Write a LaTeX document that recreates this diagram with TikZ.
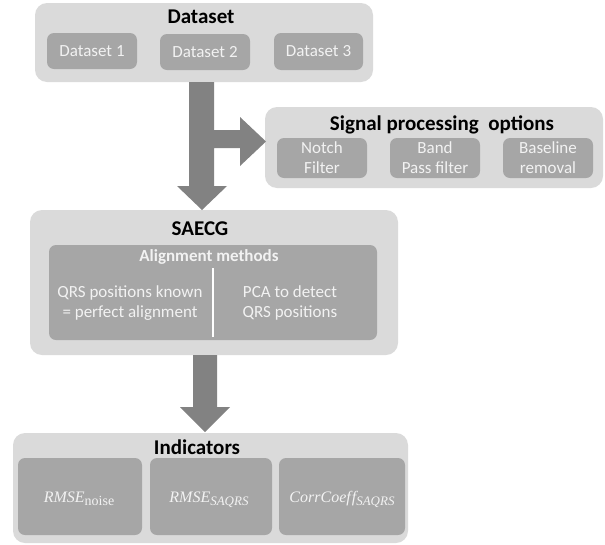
\documentclass[tikz,border=0pt]{standalone}
\usepackage[no-math]{fontspec}
\setmainfont{Carlito}
\newfontfamily\indserif{Liberation Serif}
\definecolor{outerfill}{HTML}{DADADA}
\definecolor{innerfill}{HTML}{A6A6A6}
\definecolor{arrowfill}{HTML}{828282}
\definecolor{innertext}{HTML}{F2F2F2}
\tikzset{
  outerbox/.style={rounded corners=12pt, fill=outerfill, draw=none, inner sep=0pt},
  innerbox/.style={rounded corners=7pt, fill=innerfill, draw=none, inner sep=0pt,
    text=innertext, align=center, font=\fontsize{17}{20}\selectfont},
  titletext/.style={font=\bfseries\fontsize{21}{24}\selectfont, text=black, anchor=base, inner sep=0pt},
  lighttext/.style={text=innertext, align=center, inner sep=0pt, font=\fontsize{17}{20}\selectfont},
  mathtext/.style={text=innertext, inner sep=0pt, anchor=base, font=\indserif\itshape\fontsize{16}{18}\selectfont}
}
\newcommand{\indsub}[1]{\raisebox{-3.5pt}{\fontsize{13}{15}\selectfont #1}}
\begin{document}
\begin{tikzpicture}[x=1pt,y=-1pt]
\useasboundingbox (0,0) rectangle (605,544);

% Dataset
\node[outerbox, minimum width=338pt, minimum height=79pt] (dsbox) at (204,42.5) {};
\node[titletext] (dstitle) at (201,23) {Dataset};
\node[innerbox, minimum width=90pt, minimum height=36pt] (ds1) at (92,51) {Dataset 1};
\node[innerbox, minimum width=90pt, minimum height=36pt] (ds2) at (205,52) {Dataset 2};
\node[innerbox, minimum width=89pt, minimum height=37pt] (ds3) at (318.5,51.5) {Dataset 3};

% Signal processing
\node[outerbox, minimum width=338pt, minimum height=81pt] (spbox) at (434,147.5) {};
\node[titletext] (sptitle) at (442,130) {Signal processing\ \ options};
\node[innerbox, minimum width=90pt, minimum height=40pt] (notch) at (322,158) {Notch\\Filter};
\node[innerbox, minimum width=90pt, minimum height=40pt] (band) at (435,158) {Band\\Pass filter};
\node[innerbox, minimum width=90pt, minimum height=40pt] (base) at (548,158) {Baseline\\removal};

% SAECG
\node[outerbox, minimum width=368pt, minimum height=145pt] (saecg) at (214,282.5) {};
\node[titletext] (saecgtitle) at (200,235) {SAECG};
\node[innerbox, minimum width=328pt, minimum height=95pt] (align) at (213,292.5) {};
\node[lighttext, anchor=base, font=\bfseries\fontsize{17}{20}\selectfont] (aligntitle) at (209,261) {Alignment methods};
\coordinate (divtop) at (213,268);
\coordinate (divbot) at (213,337);
\draw[white, line width=1.2pt] (divtop) -- (divbot);
\node[lighttext] (known) at (130,303) {QRS positions known\\= perfect alignment};
\node[lighttext] (pca) at (290,303) {PCA to detect\\QRS positions};

% Indicators
\node[outerbox, minimum width=395pt, minimum height=110pt] (ind) at (210.5,488) {};
\node[titletext] (indtitle) at (197,454) {Indicators};
\node[innerbox, minimum width=124pt, minimum height=77pt] (i1) at (80,496.5) {};
\node[innerbox, minimum width=122pt, minimum height=77pt] (i2) at (211,496.5) {};
\node[innerbox, minimum width=126pt, minimum height=77pt] (i3) at (342,496.5) {};
\node[mathtext] (t1) at (79,502) {RMSE\indsub{\upshape\fontsize{14}{16}\selectfont noise}};
\node[mathtext] (t2) at (209,502) {RMSE\indsub{SAQRS}};
\node[mathtext] (t3) at (342,502) {CorrCoef\kern1pt f\indsub{SAQRS}};

% Arrows
\fill[fill=arrowfill] (189,82) -- (189,186) -- (177,186) -- (202,210) -- (227,186) -- (214,186)
  -- (214,148) -- (240,148) -- (240,166) -- (266,141.5) -- (240,117) -- (240,130) -- (214,130)
  -- (214,82) -- cycle;
\fill[fill=arrowfill] (193,355) -- (193,407) -- (180,407) -- (205,432) -- (230,407) -- (217,407)
  -- (217,355) -- cycle;
\end{tikzpicture}
\end{document}
